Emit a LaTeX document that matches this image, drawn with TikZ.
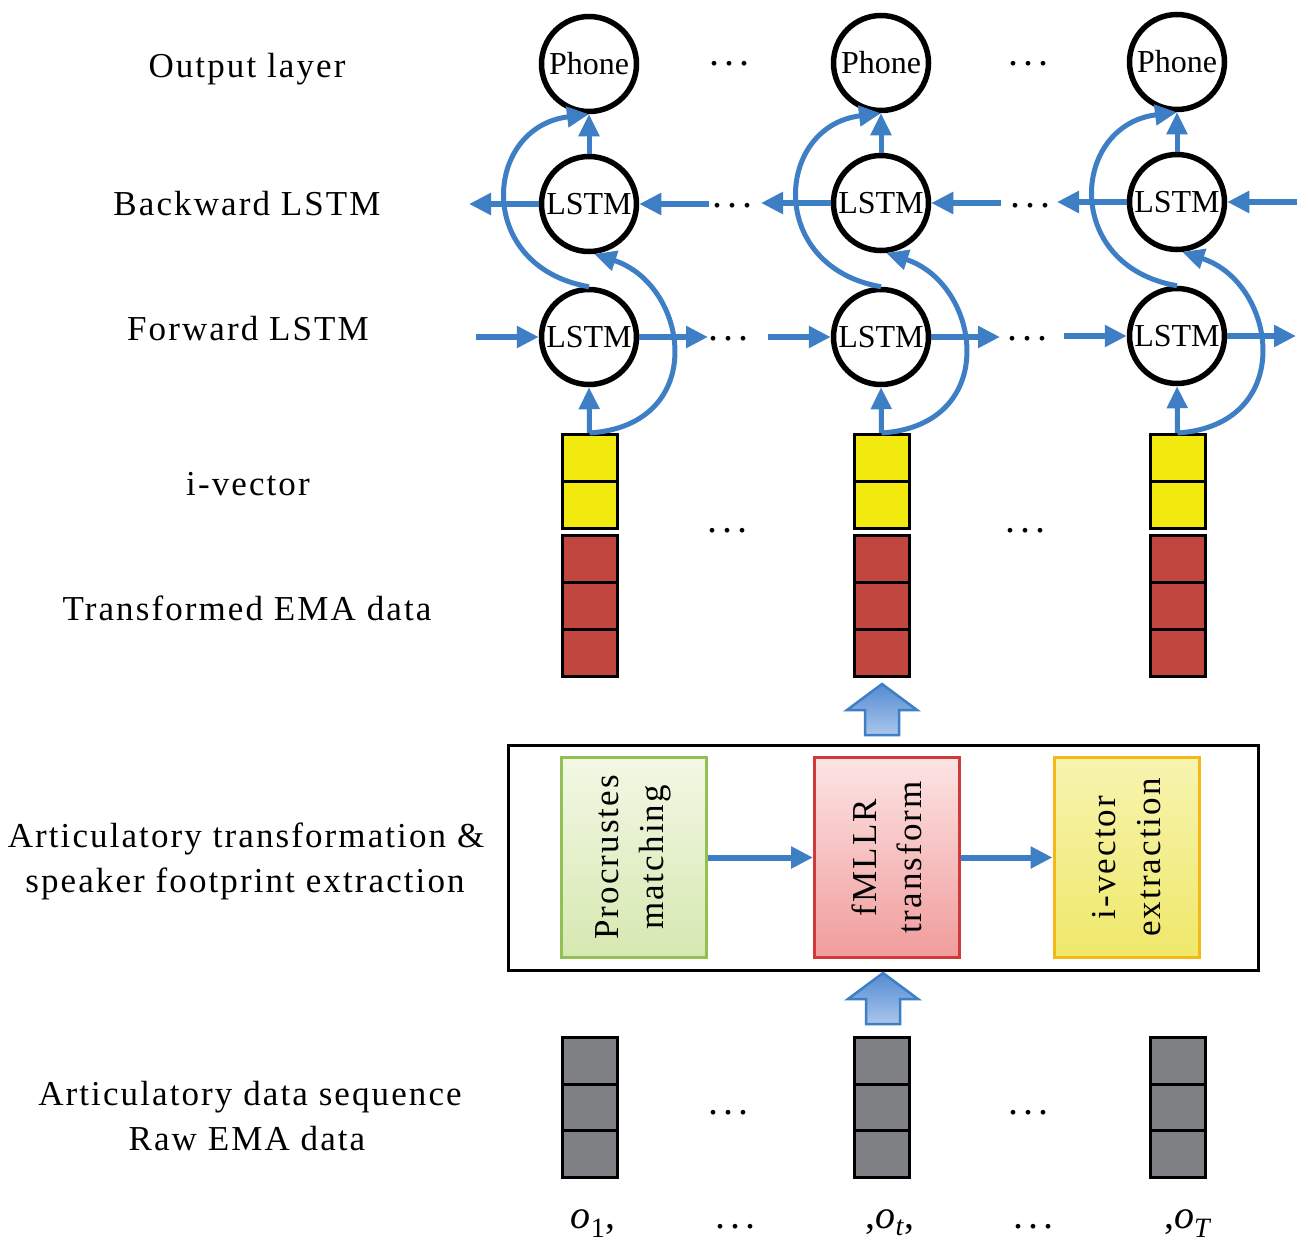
\documentclass[tikz,border=0pt]{standalone}
\usepackage{fontspec}
\setmainfont{Liberation Serif}
\newfontfamily\lblfont{Liberation Serif}[LetterSpace=6]
\usetikzlibrary{arrows.meta,calc}
\definecolor{ablue}{RGB}{62,126,197}
\definecolor{cellY}{RGB}{242,234,14}
\definecolor{cellR}{RGB}{192,70,63}
\definecolor{cellG}{RGB}{127,128,132}
\definecolor{gTop}{RGB}{242,248,229}
\definecolor{gBot}{RGB}{214,232,176}
\definecolor{gLine}{RGB}{147,192,84}
\definecolor{rTop}{RGB}{253,228,228}
\definecolor{rBot}{RGB}{240,156,156}
\definecolor{rLine}{RGB}{208,58,58}
\definecolor{yTop}{RGB}{247,244,176}
\definecolor{yBot}{RGB}{239,232,106}
\definecolor{yLine}{RGB}{246,184,23}
\definecolor{bkTop}{RGB}{84,139,210}
\definecolor{bkBot}{RGB}{170,198,236}
\tikzset{
  lbl/.style={font=\lblfont\fontsize{35}{44}\selectfont, anchor=base, inner sep=0pt},
  circ/.style={circle, draw=black, fill=white, line width=5.5pt, minimum size=95pt, inner sep=0pt, font=\fontsize{32}{36}\selectfont},
  cellbox/.style={draw=black, line width=3pt, minimum width=55pt, minimum height=47pt, inner sep=0pt},
  harr/.style={draw=ablue, line width=6pt, -{Triangle[length=22pt,width=21pt]}},
  carr/.style={draw=ablue, line width=5pt, -{Triangle[length=22pt,width=20pt]}},
  dotstyle/.style={font=\fontsize{40}{40}\selectfont, anchor=base, inner sep=0pt},
  olab/.style={font=\fontsize{40}{44}\selectfont, anchor=base, inner sep=0pt},
  procbox/.style={line width=3pt, minimum width=145pt, minimum height=200pt, inner sep=0pt},
  rottext/.style={rotate=90, align=center, font=\lblfont\fontsize{35}{45}\selectfont, inner sep=0pt},
  blk/.pic={\shade[top color=bkTop, bottom color=bkBot, draw=ablue, line width=2.5pt, line join=miter]
     (0,0) -- (35,26) -- (17,26) -- (17,51) -- (-17,51) -- (-17,26) -- (-35,26) -- cycle;}
}
\newcommand{\tdots}{.\hspace{5pt}.\hspace{5pt}.}
\begin{document}
\begin{tikzpicture}[x=1pt,y=-1pt]
\useasboundingbox[fill=white] (0,0) rectangle (1309,1245);

% left labels
\node[lbl] (lout) at (247,77) {Output layer};
\node[lbl] (lbw) at (247,215) {Backward LSTM};
\node[lbl] (lfw) at (248,340) {Forward LSTM};
\node[lbl] (liv) at (248,495) {i-vector};
\node[lbl] (ltr) at (247,620) {Transformed EMA data};
\node[lbl] (lat1) at (246,847) {Articulatory transformation \&};
\node[lbl] (lat2) at (245,892) {speaker footprint extraction};
\node[lbl] (lad1) at (250,1105) {Articulatory data sequence};
\node[lbl] (lad2) at (247,1150) {Raw EMA data};

% columns
\foreach \c/\X/\py/\by/\fy in {1/589/64/204/337, 2/881/63/203/337, 3/1177/62/202/336}{
  % cells
  \node[cellbox, fill=cellY] (ya\c) at (\X+0.5,458) {};
  \node[cellbox, fill=cellY] (yb\c) at (\X+0.5,505) {};
  \node[cellbox, fill=cellR] (ra\c) at (\X+0.5,559) {};
  \node[cellbox, fill=cellR] (rb\c) at (\X+0.5,606) {};
  \node[cellbox, fill=cellR] (rc\c) at (\X+0.5,653) {};
  \node[cellbox, fill=cellG, minimum height=46.7pt] (ga\c) at (\X+1,1060.8) {};
  \node[cellbox, fill=cellG, minimum height=46.7pt] (gb\c) at (\X+1,1107.5) {};
  \node[cellbox, fill=cellG, minimum height=46.7pt] (gc\c) at (\X+1,1154.2) {};
  % circles
  \node[circ] (ph\c) at (\X,\py) {Phone};
  \node[circ] (bl\c) at (\X,\by) {LSTM};
  \node[circ] (fl\c) at (\X,\fy) {LSTM};
  % free ends
  \coordinate (bi\c) at (\X+120,\by);
  \coordinate (bo\c) at (\X-120,\by);
  \coordinate (fi\c) at (\X-113,\fy);
  \coordinate (fo\c) at (\X+119,\fy);
  % arrows
  \draw[harr] (bi\c) -- (bl\c.east);
  \draw[harr] (bl\c.west) -- (bo\c);
  \draw[harr] (fi\c) -- (fl\c.west);
  \draw[harr] (fl\c.east) -- (fo\c);
  \draw[carr] (ya\c.north) -- (fl\c.south);
  \draw[carr] (bl\c.north) -- (ph\c.south);
  \draw[carr] (ya\c.north) .. controls +(120,-8) and +(95,31) .. (bl\c.-84);
  \draw[carr] (fl\c.north) .. controls +(-115,-20) and +(-106,13) .. (ph\c.south);
}

% dots
\foreach \n/\x/\y in {p1/729/63, p2/1028/63, b1/732/205, b2/1030/205, f1/728/338, f2/1027/338,
                      i1/727/530, i2/1025/530, r1/728/1112, r2/1028/1112}{
  \node[dotstyle] (d\n) at (\x,\y+2) {\tdots};
}
\node[dotstyle] (do1) at (735,1228) {\tdots};
\node[dotstyle] (do2) at (1033,1228) {\tdots};

% bottom labels
\node[olab] (o1) at (593,1228) {\textit{o}\textsubscript{1},};
\node[olab] (ot) at (890,1228) {,\textit{o}\textsubscript{\textit{t}},};
\node[olab] (oT) at (1188,1228) {,\textit{o}\textsubscript{\textit{T}}};

% processing frame
\node[draw=black, line width=3pt, minimum width=750pt, minimum height=225pt, inner sep=0pt] (frame) at (883,857.5) {};
\node[procbox, draw=gLine, top color=gTop, bottom color=gBot] (gbox) at (633.5,857.5) {};
\node[procbox, draw=rLine, top color=rTop, bottom color=rBot] (rbox) at (887,857.5) {};
\node[procbox, draw=yLine, top color=yTop, bottom color=yBot] (ybox) at (1126.5,857.5) {};
\node[rottext] (gtx) at (gbox.center) {Procrustes\\matching};
\node[rottext] (rtx) at (rbox.center) {fMLLR\\transform};
\node[rottext] (ytx) at (ybox.center) {i-vector\\extraction};
\draw[harr] (gbox.east) -- (rbox.west);
\draw[harr] (rbox.east) -- (ybox.west);

% block arrows
\pic at (882,684) {blk};
\pic at (883,973) {blk};
\end{tikzpicture}
\end{document}
